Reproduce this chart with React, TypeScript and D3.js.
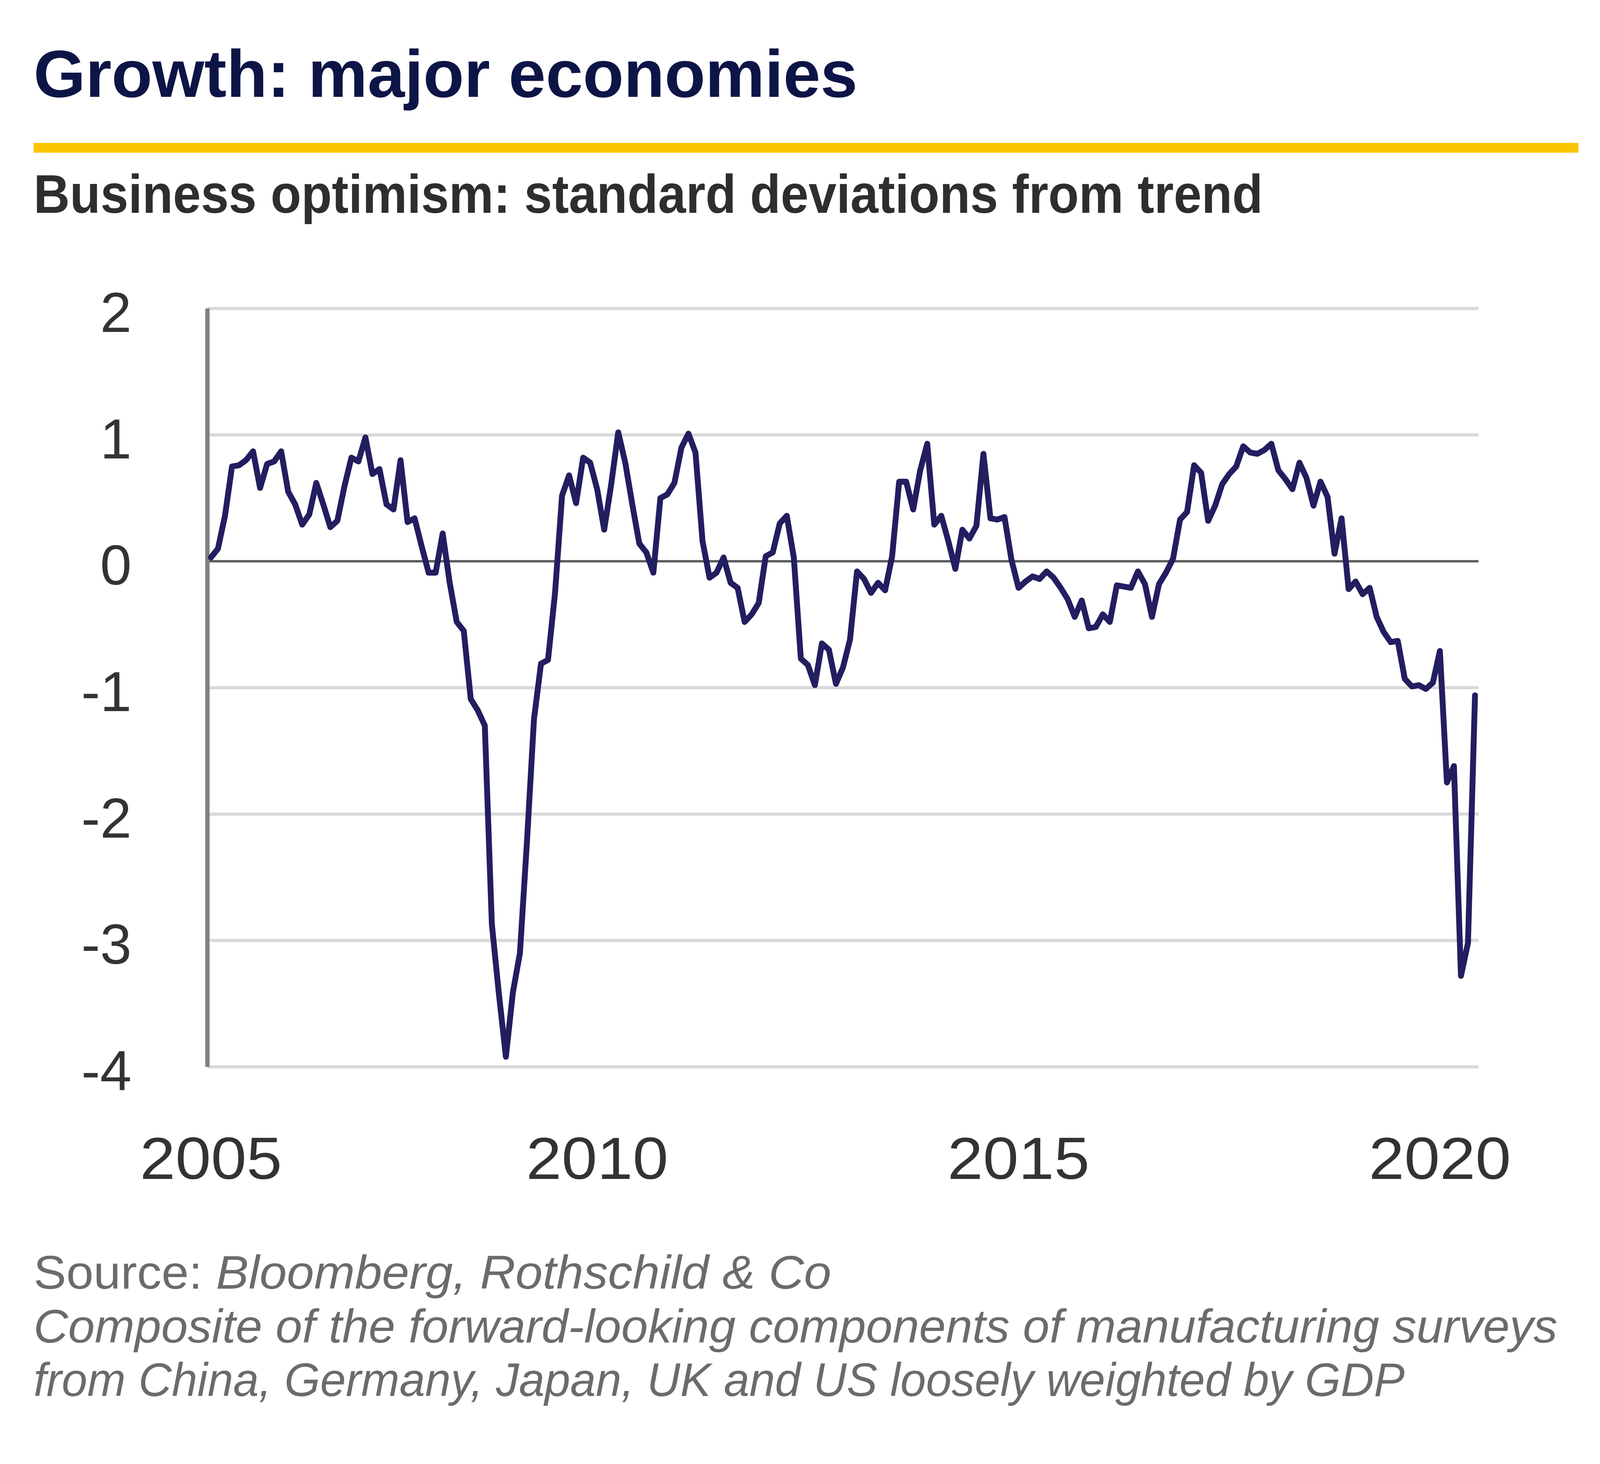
import React from 'react';
import * as d3 from 'd3';

// Monthly composite, June 2005 .. June 2020 (standard deviations from trend)
const startMonth = new Date(Date.UTC(2005, 5, 1));
const optimism: number[] = [
  0.03, 0.10, 0.36, 0.75, 0.76, 0.80, 0.87, 0.58, 0.77, 0.79,
  0.87, 0.55, 0.45, 0.29, 0.37, 0.62, 0.45, 0.27, 0.32, 0.59,
  0.82, 0.79, 0.98, 0.69, 0.73, 0.45, 0.41, 0.80, 0.31, 0.34,
  0.12, -0.09, -0.09, 0.22, -0.17, -0.48, -0.55, -1.09, -1.18, -1.30,
  -2.87, -3.42, -3.92, -3.41, -3.10, -2.22, -1.25, -0.81, -0.78, -0.25,
  0.52, 0.68, 0.46, 0.82, 0.78, 0.57, 0.25, 0.61, 1.02, 0.78,
  0.45, 0.14, 0.07, -0.09, 0.50, 0.53, 0.62, 0.90, 1.01, 0.86,
  0.16, -0.13, -0.09, 0.03, -0.17, -0.21, -0.48, -0.42, -0.33, 0.04,
  0.07, 0.30, 0.36, 0.03, -0.77, -0.82, -0.98, -0.65, -0.70, -0.97,
  -0.84, -0.62, -0.08, -0.14, -0.25, -0.17, -0.23, 0.04, 0.63, 0.63,
  0.41, 0.72, 0.93, 0.29, 0.36, 0.16, -0.06, 0.25, 0.18, 0.28,
  0.85, 0.34, 0.33, 0.35, 0.01, -0.21, -0.16, -0.12, -0.14, -0.08,
  -0.13, -0.21, -0.30, -0.44, -0.31, -0.53, -0.52, -0.42, -0.48, -0.19,
  -0.20, -0.21, -0.08, -0.18, -0.44, -0.18, -0.09, 0.02, 0.33, 0.39,
  0.76, 0.70, 0.32, 0.44, 0.61, 0.69, 0.75, 0.91, 0.86, 0.85,
  0.88, 0.93, 0.72, 0.65, 0.57, 0.78, 0.66, 0.44, 0.63, 0.51,
  0.06, 0.34, -0.22, -0.16, -0.26, -0.21, -0.44, -0.56, -0.64, -0.63,
  -0.93, -0.99, -0.98, -1.01, -0.96, -0.71, -1.75, -1.62, -3.28, -3.02,
  -1.06,
];

const yTicks = [2, 1, 0, -1, -2, -3, -4];
const xTickMonths = ['2005-06', '2010-01', '2015-01', '2020-01'];

const titleText = 'Growth: major economies';
const subtitleText = 'Business optimism: standard deviations from trend';
const sourceLabel = 'Source: ';
const sourceText = 'Bloomberg, Rothschild & Co';
const noteLines = [
  'Composite of the forward-looking components of manufacturing surveys',
  'from China, Germany, Japan, UK and US loosely weighted by GDP',
];

const W = 4224;
const H = 3749;
const plot = { left: 531, right: 3785, top: 790, bottom: 2732 };

const fmtMonth = d3.utcFormat('%Y-%m');
const months = optimism.map((_, i) => fmtMonth(d3.utcMonth.offset(startMonth, i)));
const points = optimism.map((v, i) => ({ month: months[i], value: v }));

const App: React.FC = () => {
  const x = d3
    .scalePoint<string>()
    .domain(months)
    .range([plot.left, plot.right])
    .padding(0.5);

  const y = d3.scaleLinear().domain([-4, 2]).range([plot.bottom, plot.top]);

  const line = d3
    .line<{ month: string; value: number }>()
    .x((d) => x(d.month) as number)
    .y((d) => y(d.value));

  const font = "'Liberation Sans', Arial, Helvetica, sans-serif";

  return (
    <div style={{ position: 'absolute', left: 0, top: 0, width: W, height: H, background: '#fff' }}>
      <svg width={W} height={H} viewBox={`0 0 ${W} ${H}`} style={{ display: 'block' }}>
        <rect width={W} height={H} fill='#ffffff' />

        {/* heading */}
        <text x={86} y={248} fontFamily={font} fontWeight={700} fontSize={171} fill='#0d1547'>
          {titleText}
        </text>
        <rect x={86} y={366} width={3955} height={25} fill='#fbc500' />
        <text
          x={86}
          y={545}
          fontFamily={font}
          fontWeight={700}
          fontSize={140}
          fill='#2e2e2e'
          textLength={3147}
          lengthAdjust='spacingAndGlyphs'
        >
          {subtitleText}
        </text>

        {/* grid */}
        <g>
          {yTicks
            .filter((t) => t !== 0)
            .map((t) => (
              <line
                key={t}
                x1={plot.left}
                x2={plot.right}
                y1={y(t)}
                y2={y(t)}
                stroke='#d9d9d9'
                strokeWidth={8}
              />
            ))}
          <line x1={plot.left} x2={plot.right} y1={y(0)} y2={y(0)} stroke='#5a5a5a' strokeWidth={6} />
          <line x1={plot.left} x2={plot.left} y1={y(2)} y2={y(-4)} stroke='#7f7f7f' strokeWidth={11} />
        </g>

        {/* y labels */}
        <g fontFamily={font} fontSize={145} fill='#333333' textAnchor='end'>
          {yTicks.map((t) => (
            <text key={t} x={337} y={y(t) + 60}>
              {t}
            </text>
          ))}
        </g>

        {/* x labels */}
        <g fontFamily={font} fontSize={152} fill='#333333' textAnchor='middle'>
          {xTickMonths.map((m) => (
            <text key={m} x={x(m) as number} y={3019} textLength={364} lengthAdjust='spacingAndGlyphs'>
              {m.slice(0, 4)}
            </text>
          ))}
        </g>

        {/* series */}
        <path
          d={line(points) ?? ''}
          fill='none'
          stroke='#221e60'
          strokeWidth={15}
          strokeLinejoin='round'
          strokeLinecap='round'
        />

        {/* footnotes */}
        <g fontFamily={font} fontSize={120} fill='#6b6b6b'>
          <text x={86} y={3300} textLength={2042} lengthAdjust='spacingAndGlyphs'>
            <tspan>{sourceLabel}</tspan>
            <tspan fontStyle='italic'>{sourceText}</tspan>
          </text>
          {noteLines.map((l, i) => (
            <text
              key={i}
              x={86}
              y={3438 + i * 137}
              fontStyle='italic'
              textLength={i === 0 ? 3901 : 3510}
              lengthAdjust='spacingAndGlyphs'
            >
              {l}
            </text>
          ))}
        </g>
      </svg>
    </div>
  );
};

export default App;
